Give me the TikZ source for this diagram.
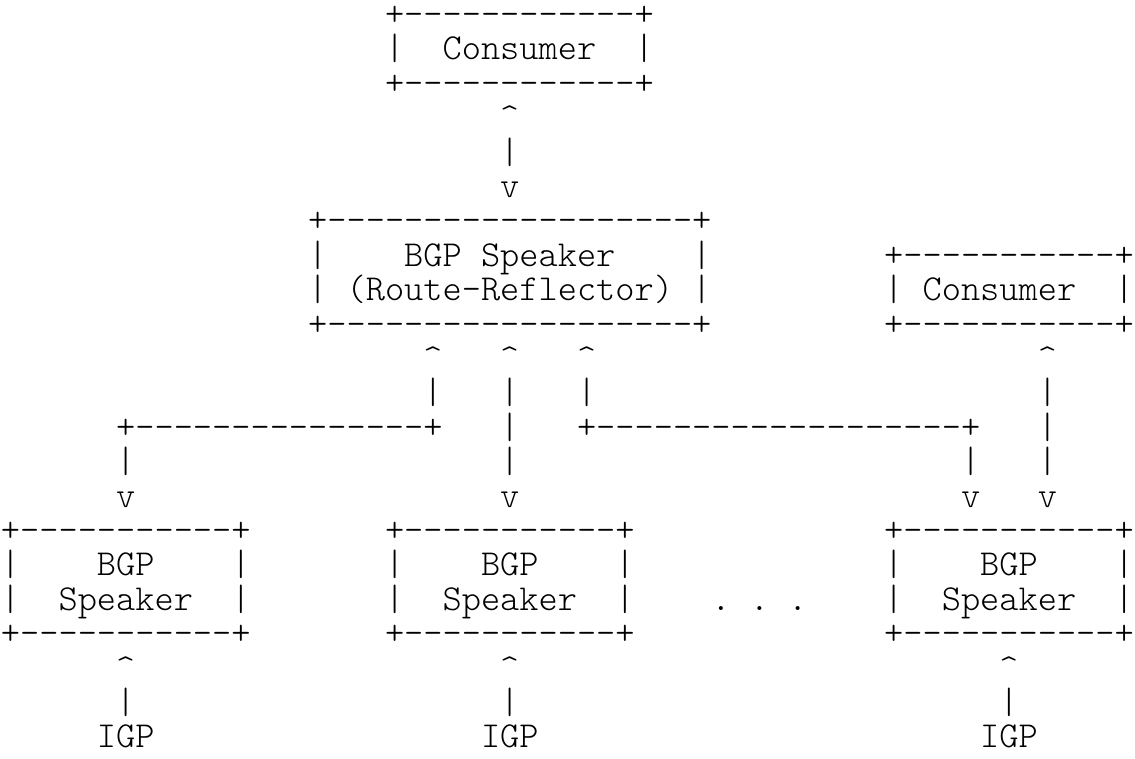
\documentclass[tikz,border=0pt]{standalone}
\usepackage{fontspec}
\setmonofont{lmmonolt10-regular.otf}

% one character cell is one x unit, one text line is one y unit
\tikzset{
  asc/.style={anchor=base west, inner sep=0pt, outer sep=0pt, font=\ttfamily},
}
\newcommand{\dashrun}[1]{\foreach \k in {1,...,#1}{-}}

\begin{document}
\begin{tikzpicture}[x=5.25pt, y=9.406pt]
    \useasboundingbox (-0.552,0.741) rectangle (58.562,-21.294);
    % consumer on top
    \node[asc] (cons-top) at (19.5,  0) {+\dashrun{12}+};
    \node[asc] (cons-mid) at (19.5, -1) {|\ \ Consumer\ \ |};
    \node[asc] (cons-bot) at (19.5, -2) {+\dashrun{12}+};
    \node[asc] (cons-up)  at (25.5, -3) {\textasciicircum};
    \node[asc] (cons-bar) at (25.5, -4) {|};
    \node[asc] (cons-dn)  at (25.5, -5) {v};
    % route reflector
    \node[asc] (rr-top) at (15.5, -6) {+\dashrun{19}+};
    \node[asc] (rr-l1)  at (15.5, -7) {|\ \ \ \ BGP Speaker\ \ \ \ |};
    \node[asc] (rr-l2)  at (15.5, -8) {|\ (Route-Reflector)\ |};
    \node[asc] (rr-bot) at (15.5, -9) {+\dashrun{19}+};
    % second consumer
    \node[asc] (cons2-top) at (45.5, -7) {+\dashrun{11}+};
    \node[asc] (cons2-mid) at (45.5, -8) {|\ Consumer\ \ |};
    \node[asc] (cons2-bot) at (45.5, -9) {+\dashrun{11}+};
    % sessions down to the speakers
    \foreach \c in {22,26,30,54} {
      \node[asc] (up-\c)  at (\c-0.5,-10) {\textasciicircum};
      \node[asc] (bar-\c) at (\c-0.5,-11) {|};
    }
    \node[asc] (split-l) at ( 5.5,-12) {+\dashrun{15}+};
    \node[asc] (mid-26)  at (25.5,-12) {|};
    \node[asc] (split-r) at (29.5,-12) {+\dashrun{19}+};
    \node[asc] (mid-54)  at (53.5,-12) {|};
    \foreach \c in {6,26,50,54} {
      \node[asc] (low-\c) at (\c-0.5,-13) {|};
      \node[asc] (dn-\c)  at (\c-0.5,-14) {v};
    }
    % speakers
    \foreach \c/\g in {0/6,20/26,46/52} {
      \node[asc] (spk-top-\c) at (\c-0.5,-15) {+\dashrun{11}+};
      \node[asc] (spk-l1-\c)  at (\c-0.5,-16) {|\ \ \ \ BGP\ \ \ \ |};
      \node[asc] (spk-l2-\c)  at (\c-0.5,-17) {|\ \ Speaker\ \ |};
      \node[asc] (spk-bot-\c) at (\c-0.5,-18) {+\dashrun{11}+};
      \node[asc] (igp-up-\c)  at (\g-0.5,-19) {\textasciicircum};
      \node[asc] (igp-bar-\c) at (\g-0.5,-20) {|};
      \node[asc] (igp-\c)     at (\g-1.5,-21) {IGP};
    }
    \node[asc] (more) at (36.5,-17) {.\ .\ .};
\end{tikzpicture}
\end{document}
